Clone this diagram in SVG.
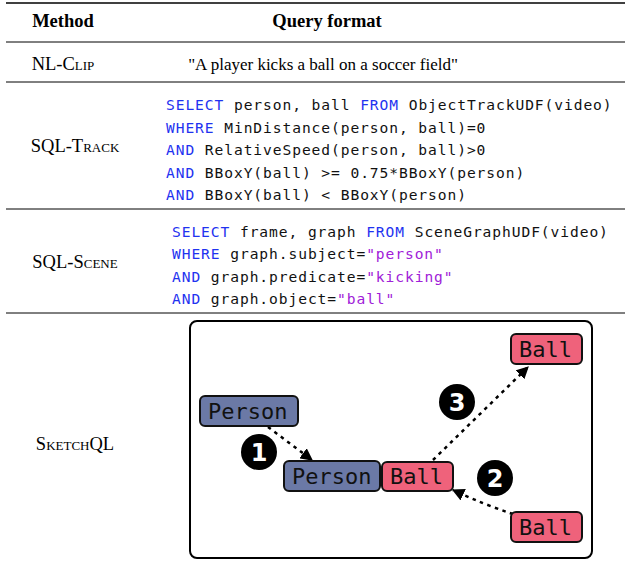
<svg xmlns="http://www.w3.org/2000/svg" width="625" height="573" viewBox="0 0 625 573">
<defs>
<marker id="ah" viewBox="0 0 10 10" refX="9" refY="5" markerWidth="5" markerHeight="5" orient="auto" markerUnits="strokeWidth">
<path d="M0,0 L10,5 L0,10 z" fill="#000"/>
</marker>
</defs>
<style>
.hd{font-family:"Liberation Serif",serif;font-size:18.5px;font-weight:bold;fill:#000}
.lb{font-family:"Liberation Serif",serif;font-size:17px;fill:#000}
.rl{font-size:18.5px}
.sc{font-variant:small-caps}
.code{font-family:"DejaVu Sans Mono",monospace;font-size:14.6px;letter-spacing:0.92px;fill:#111}
.kw{fill:#1f33f0}
.st{fill:#a020d8}
.rule{stroke:#000;stroke-width:1}
.box{stroke:#111;stroke-width:2}
.pn{fill:#6b79a6}
.bl{fill:#ef627b}
.nt{font-family:"DejaVu Sans Mono",monospace;font-size:22px;fill:#111}
.num{font-family:"DejaVu Sans",sans-serif;font-size:24px;font-weight:bold;fill:#fff;text-anchor:middle}
.edge{fill:none;stroke:#000;stroke-width:2.5;stroke-dasharray:3.5 4.5;marker-end:url(#ah)}
</style>
<rect width="625" height="573" fill="#fff"/>
<line x1="6" y1="3" x2="625" y2="3" stroke="#000" stroke-width="1.6"/>
<line x1="6" y1="42" x2="625" y2="42" class="rule" stroke-width="1.2"/>
<line x1="6" y1="82" x2="625" y2="82" class="rule"/>
<line x1="6" y1="209" x2="625" y2="209" class="rule"/>
<line x1="6" y1="313" x2="625" y2="313" class="rule"/>
<text class="hd" x="63" y="27" text-anchor="middle">Method</text>
<text class="hd" x="327" y="27" text-anchor="middle">Query format</text>
<text class="lb rl sc" x="63" y="70" text-anchor="middle">NL-Clip</text>
<text class="lb" x="323" y="70" text-anchor="middle">"A player kicks a ball on a soccer field"</text>
<text class="lb rl sc" x="75" y="152" text-anchor="middle">SQL-Track</text>
<text class="lb rl sc" x="75" y="268" text-anchor="middle">SQL-Scene</text>
<text class="lb rl sc" x="75" y="450" text-anchor="middle">SketchQL</text>
<g id="sql-track" class="code">
<text x="166" y="110"><tspan class="kw">SELECT</tspan> person, ball <tspan class="kw">FROM</tspan> ObjectTrackUDF(video)</text>
<text x="166" y="132.5"><tspan class="kw">WHERE</tspan> MinDistance(person, ball)=0</text>
<text x="166" y="155"><tspan class="kw">AND</tspan> RelativeSpeed(person, ball)&gt;0</text>
<text x="166" y="177.5"><tspan class="kw">AND</tspan> BBoxY(ball) &gt;= 0.75*BBoxY(person)</text>
<text x="166" y="200"><tspan class="kw">AND</tspan> BBoxY(ball) &lt; BBoxY(person)</text>
</g>
<g id="sql-scene" class="code">
<text x="172" y="237"><tspan class="kw">SELECT</tspan> frame, graph <tspan class="kw">FROM</tspan> SceneGraphUDF(video)</text>
<text x="172" y="259.3"><tspan class="kw">WHERE</tspan> graph.subject=<tspan class="st">"person"</tspan></text>
<text x="172" y="281.6"><tspan class="kw">AND</tspan> graph.predicate=<tspan class="st">"kicking"</tspan></text>
<text x="172" y="304"><tspan class="kw">AND</tspan> graph.object=<tspan class="st">"ball"</tspan></text>
</g>
<g id="sketch-frame">
<rect x="190" y="321" width="402" height="237" rx="7" fill="none" stroke="#000" stroke-width="2"/>
</g>
<g id="connectors">
<path class="edge" d="M268,427 L312,460"/>
<path class="edge" d="M433,460 L528,367"/>
<path class="edge" d="M513,514 Q485,505 453,490"/>
</g>
<g id="person-start">
<rect class="box pn" x="200" y="396" width="98" height="30" rx="5"/>
<text class="nt" x="208" y="419">Person</text>
</g>
<g id="person-mid">
<rect class="box pn" x="284" y="461" width="96" height="30" rx="5"/>
<text class="nt" x="292" y="484">Person</text>
</g>
<g id="ball-mid">
<rect class="box bl" x="382" y="462" width="71" height="29" rx="5"/>
<text class="nt" x="390" y="484">Ball</text>
</g>
<g id="ball-top">
<rect class="box bl" x="511" y="334" width="71" height="30" rx="5"/>
<text class="nt" x="519" y="357">Ball</text>
</g>
<g id="ball-bottom">
<rect class="box bl" x="511" y="512" width="71" height="30" rx="5"/>
<text class="nt" x="519" y="535">Ball</text>
</g>
<g id="badge-1">
<circle cx="259" cy="452" r="18" fill="#000"/>
<text class="num" x="259" y="461">1</text>
</g>
<g id="badge-2">
<circle cx="495" cy="478" r="18" fill="#000"/>
<text class="num" x="495" y="487">2</text>
</g>
<g id="badge-3">
<circle cx="457" cy="402" r="18" fill="#000"/>
<text class="num" x="457" y="411">3</text>
</g>
</svg>
